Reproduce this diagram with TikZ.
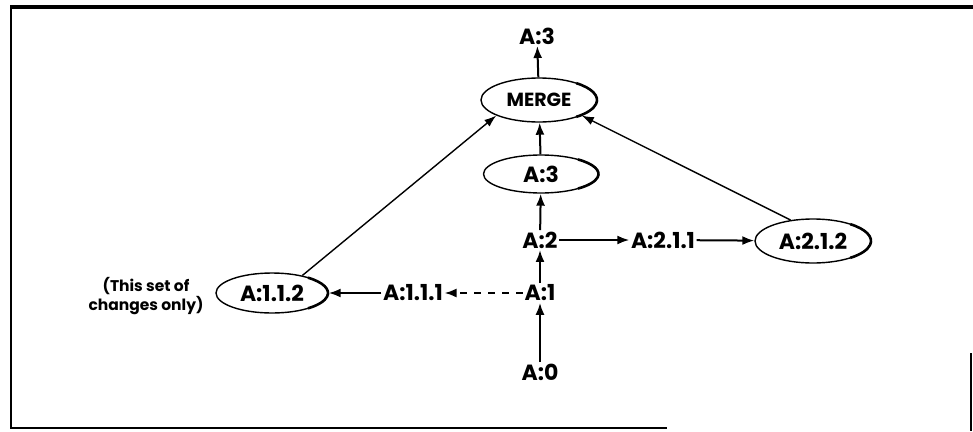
\documentclass[tikz,border=0pt]{standalone}
\usepackage{fontspec}
\setmainfont{Poppins}
\usetikzlibrary{arrows.meta,shapes.geometric}
\newcommand{\rimarc}[3]{\draw[line width=2.6pt] ([shift={(50:#2 and #3)}]#1.center) arc[start angle=50,end angle=-50,x radius=#2,y radius=#3];}
\begin{document}
\begin{tikzpicture}[x=1pt,y=-1pt,
  lbl/.style={inner sep=1.5pt, font=\fontsize{22}{24}\selectfont\bfseries},
  oval/.style={draw, line width=1.4pt, ellipse, inner sep=0pt, font=\fontsize{22}{24}\selectfont\bfseries},
  note/.style={inner sep=0pt, align=center, font=\fontsize{15.5}{19}\selectfont\bfseries},
  conn/.style={line width=2pt, -{Latex[length=12pt,width=9pt]}},
  diag/.style={line width=1.4pt, -{Latex[length=12pt,width=8.5pt]}},
  frame/.style={line width=2.5pt}
]
\useasboundingbox (0,0) rectangle (973,431);
% frame
\draw[line width=3.5pt] (10,7) -- (973,7);
\draw[frame] (11,6) -- (11,429);
\draw[line width=2.2pt] (10,428) -- (667,428);
\draw[line width=1.5pt] (971,353) -- (971,431);
% nodes
\node[oval, minimum width=116pt, minimum height=44pt, font=\fontsize{19}{22}\selectfont\bfseries] (merge) at (539,100) {MERGE};
\node[oval, minimum width=115pt, minimum height=38pt] (e3) at (541,174) {A:3};
\node[oval, minimum width=116pt, minimum height=44pt] (e212) at (813,241) {A:2.1.2};
\node[oval, minimum width=112pt, minimum height=40pt] (e112) at (272,293) {A:1.1.2};
\node[lbl] (t3) at (537,36) {A:3};
\node[lbl] (a2) at (540,240) {A:2};
\node[lbl] (a211) at (663,240) {A:2.1.1};
\node[lbl] (a1) at (540,293) {A:1};
\node[lbl] (a111) at (413,293) {A:1.1.1};
\node[lbl] (a0) at (540,372) {A:0};
\node[note] (note) at (146,296) {(This set of\\changes only)};
\rimarc{merge}{58pt}{22pt}
\rimarc{e3}{57.5pt}{19pt}
\rimarc{e212}{58pt}{22pt}
\rimarc{e112}{56pt}{20pt}
% connectors
\draw[conn] (merge) -- (t3);
\draw[conn] (e3) -- (merge);
\draw[conn] (a2) -- (e3);
\draw[conn] (a1) -- (a2);
\draw[conn] (a0) -- (a1);
\draw[conn] (a2) -- (a211);
\draw[conn] (a211) -- (e212);
\draw[conn, dash pattern=on 7pt off 7pt] (a1) -- (a111);
\draw[conn] (a111) -- (e112);
\draw[diag] (e112.30) -- (merge.200);
\draw[diag] (e212.137) -- (merge.-20);
\end{tikzpicture}
\end{document}
